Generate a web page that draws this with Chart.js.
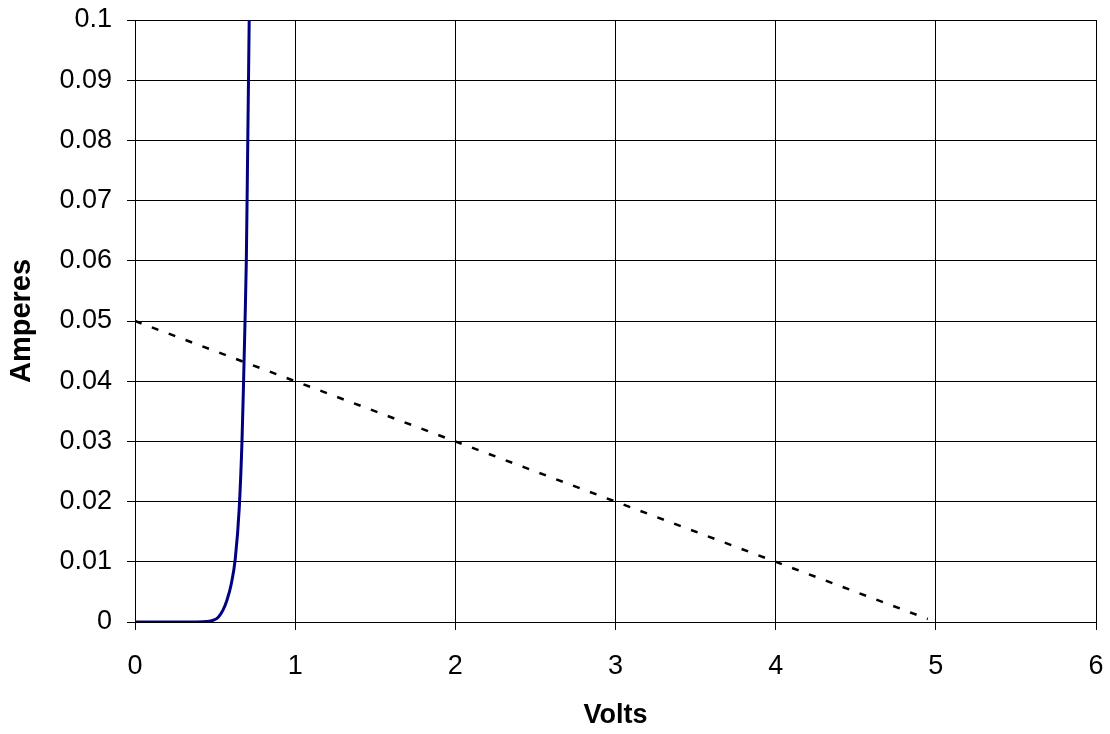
<!DOCTYPE html>
<html>
<head>
<meta charset="utf-8">
<script src="https://cdn.jsdelivr.net/npm/chart.js@4"></script>
<style>
  html, body { margin: 0; padding: 0; background: #fff; }
  #wrap { width: 1110px; height: 734px; position: relative; }
</style>
</head>
<body>
<div id="wrap"><canvas id="ivChart"></canvas></div>
<script>
// Diode curve
const diodeVolts = [0, 0.3, 0.45, 0.49, 0.52, 0.55, 0.575, 0.6, 0.626, 0.651, 0.668, 0.678, 0.687, 0.695, 0.702, 0.713];
const diodeAmps  = [0, 0, 0.0001, 0.0003, 0.0008, 0.002, 0.0037, 0.0062, 0.0105, 0.019, 0.03, 0.04, 0.05, 0.06, 0.075, 0.1];

// Load line
const loadVolts = [0, 4.95];
const loadAmps  = [0.05, 0.0005];

// Axes
const xTicks = [0, 1, 2, 3, 4, 5, 6];
const yTicks = [0, 0.01, 0.02, 0.03, 0.04, 0.05, 0.06, 0.07, 0.08, 0.09, 0.1];
const yTickLabels = ['0', '0.01', '0.02', '0.03', '0.04', '0.05', '0.06', '0.07', '0.08', '0.09', '0.1'];

const toPoints = (xs, ys) => xs.map((x, i) => ({ x: x, y: ys[i] }));

const FONT = "'Liberation Sans', Arial, sans-serif";

const ctx = document.getElementById('ivChart');

new Chart(ctx, {
    type: 'scatter',
    data: {
        datasets: [
            {
                label: 'Diode',
                data: toPoints(diodeVolts, diodeAmps),
                showLine: true,
                borderColor: '#000080',
                borderWidth: 3,
                pointRadius: 0,
                cubicInterpolationMode: 'monotone'
            },
            {
                label: 'Load',
                data: toPoints(loadVolts, loadAmps),
                showLine: true,
                borderColor: '#000000',
                borderWidth: 2.5,
                borderDash: [7, 11],
                pointRadius: 0
            }
        ]
    },
    options: {
        responsive: true,
        maintainAspectRatio: false,
        animation: false,
        layout: {
            padding: { left: 0, right: 14, top: 20, bottom: 0 }
        },
        plugins: {
            legend: { display: false },
            tooltip: { enabled: false }
        },
        scales: {
            x: {
                type: 'linear',
                min: 0,
                max: 6,
                afterBuildTicks: (scale) => { scale.ticks = xTicks.map(v => ({ value: v })); },
                afterFit: (scale) => {
                    scale.height = 112;
                    scale.paddingLeft = 0;
                    scale.paddingRight = 0;
                },
                grid: { color: '#000', lineWidth: 1, tickLength: 8 },
                border: { display: true, color: '#000', width: 1 },
                ticks: {
                    color: '#000',
                    font: { family: FONT, size: 27 },
                    padding: 20,
                    maxRotation: 0
                },
                title: {
                    display: true,
                    text: 'Volts',
                    color: '#000',
                    font: { family: FONT, size: 27, weight: 'bold' },
                    padding: { top: 0, bottom: 2 }
                }
            },
            y: {
                type: 'linear',
                min: 0,
                max: 0.1,
                afterBuildTicks: (scale) => { scale.ticks = yTicks.map(v => ({ value: v })); },
                afterFit: (scale) => {
                    scale.width = 135;
                    scale.paddingTop = 0;
                    scale.paddingBottom = 0;
                },
                grid: { color: '#000', lineWidth: 1, tickLength: 8 },
                border: { display: true, color: '#000', width: 1 },
                ticks: {
                    color: '#000',
                    font: { family: FONT, size: 27 },
                    padding: 15,
                    callback: (value, index) => yTickLabels[index]
                },
                title: {
                    display: true,
                    text: 'Amperes',
                    color: '#000',
                    font: { family: FONT, size: 29, weight: 'bold' },
                    padding: { top: 5, bottom: 0 }
                }
            }
        }
    }
});
</script>
</body>
</html>
